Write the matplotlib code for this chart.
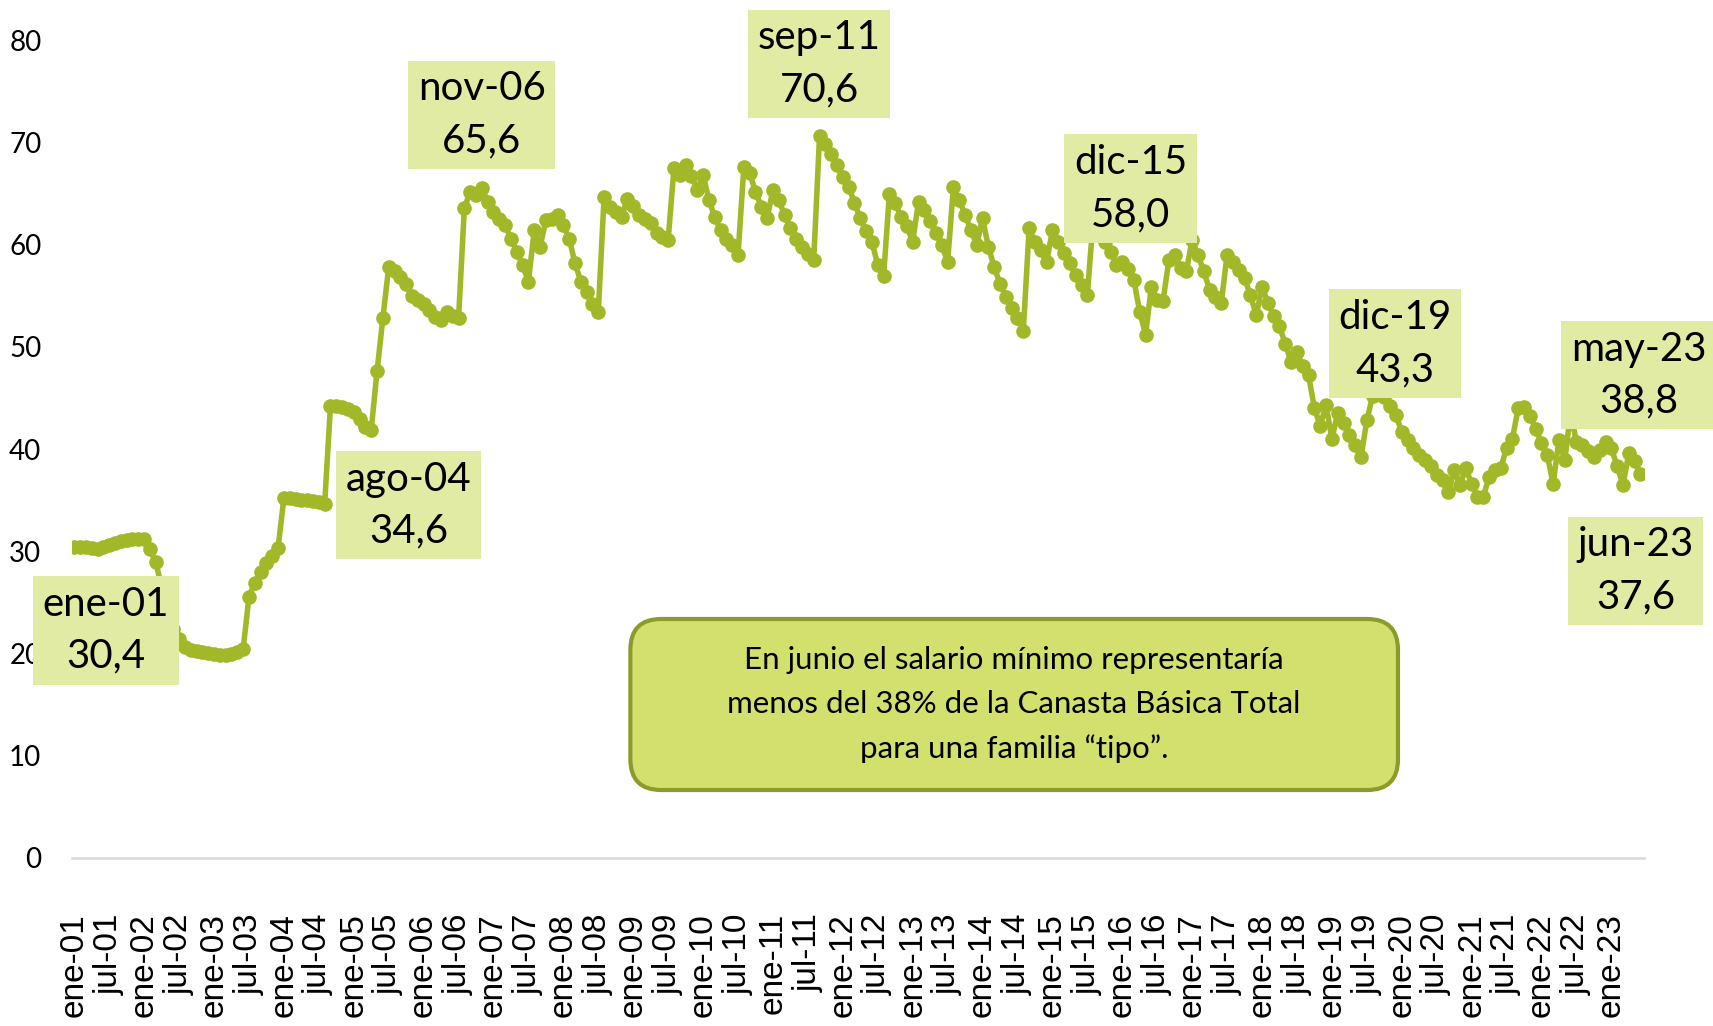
import matplotlib
matplotlib.use("Agg")
import matplotlib.pyplot as plt
from matplotlib.patches import FancyBboxPatch

# salario minimo como % de la Canasta Basica Total, mensual ene-01 .. jun-23
v2001 = [30.4, 30.4, 30.4, 30.3, 30.2, 30.4, 30.6, 30.8, 31.0, 31.1, 31.2, 31.2]
v2002 = [31.2, 30.2, 28.9, 26.5, 24.3, 22.4, 21.4, 20.6, 20.3, 20.2, 20.1, 20.0]
v2003 = [19.9, 19.8, 19.8, 19.9, 20.1, 20.4, 25.5, 26.9, 28.0, 28.8, 29.5, 30.3]
v2004 = [35.2, 35.2, 35.1, 35.0, 35.0, 34.9, 34.8, 34.6, 44.2, 44.2, 44.1, 43.9]
v2005 = [43.6, 42.9, 42.2, 41.9, 47.6, 52.8, 57.8, 57.4, 56.8, 56.2, 55.0, 54.6]
v2006 = [54.2, 53.6, 52.9, 52.6, 53.4, 53.0, 52.8, 63.6, 65.2, 64.9, 65.6, 64.2]
v2007 = [63.2, 62.5, 61.9, 60.6, 59.3, 58.0, 56.4, 61.4, 59.8, 62.4, 62.5, 62.9]
v2008 = [61.9, 60.6, 58.2, 56.4, 55.4, 54.2, 53.4, 64.7, 63.7, 63.2, 62.7, 64.5]
v2009 = [63.8, 62.9, 62.5, 62.1, 61.1, 60.8, 60.5, 67.5, 66.8, 67.8, 66.7, 65.4]
v2010 = [66.8, 64.4, 62.7, 61.4, 60.6, 60.0, 59.0, 67.6, 67.0, 65.2, 63.7, 62.6]
v2011 = [65.4, 64.4, 62.9, 61.6, 60.6, 59.8, 59.1, 58.5, 70.6, 69.9, 68.9, 67.8]
v2012 = [66.6, 65.7, 64.1, 62.6, 61.3, 60.3, 58.0, 56.9, 65.0, 64.1, 62.7, 61.8]
v2013 = [60.3, 64.2, 63.4, 62.3, 61.1, 60.0, 58.3, 65.7, 64.4, 62.9, 61.4, 60.0]
v2014 = [62.6, 59.8, 57.8, 56.2, 54.9, 53.8, 52.8, 51.6, 61.6, 60.3, 59.5, 58.3]
v2015 = [61.4, 60.3, 59.2, 58.2, 57.0, 56.1, 55.1, 62.5, 61.4, 60.3, 59.3, 58.0]
v2016 = [58.3, 57.6, 56.5, 53.4, 51.2, 55.9, 54.6, 54.5, 58.5, 59.0, 57.7, 57.4]
v2017 = [60.5, 59.0, 57.4, 55.6, 54.9, 54.3, 59.0, 58.3, 57.5, 56.7, 55.1, 53.1]
v2018 = [55.9, 54.3, 53.0, 52.0, 50.3, 48.5, 49.5, 48.1, 47.2, 44.0, 42.3, 44.3]
v2019 = [41.0, 43.5, 42.5, 41.4, 40.4, 39.2, 42.8, 45.2, 45.4, 45.1, 44.2, 43.3]
v2020 = [41.7, 40.9, 40.1, 39.4, 38.9, 38.3, 37.5, 37.0, 35.8, 37.9, 36.5, 38.1]
v2021 = [36.6, 35.3, 35.3, 37.3, 37.9, 38.1, 40.1, 41.0, 44.0, 44.1, 43.2, 42.0]
v2022 = [40.6, 39.4, 36.6, 40.9, 38.9, 43.6, 40.7, 40.4, 39.8, 39.2, 39.9, 40.7]
v2023 = [40.1, 38.3, 36.5, 39.6, 38.8, 37.6]

valores = (v2001 + v2002 + v2003 + v2004 + v2005 + v2006 + v2007 + v2008 +
           v2009 + v2010 + v2011 + v2012 + v2013 + v2014 + v2015 + v2016 +
           v2017 + v2018 + v2019 + v2020 + v2021 + v2022 + v2023)

meses = ["ene", "feb", "mar", "abr", "may", "jun",
         "jul", "ago", "sep", "oct", "nov", "dic"]
fechas = [f"{meses[k % 12]}-{1 + k // 12:02d}" for k in range(len(valores))]

etiquetas = ["ene-01", "ago-04", "nov-06", "sep-11", "dic-15", "dic-19", "may-23", "jun-23"]
# centro de cada cuadro de etiqueta (fraccion de figura)
pos_etiquetas = [(0.0619, 0.3856), (0.2385, 0.5075), (0.2813, 0.8882), (0.4783, 0.9377),
                 (0.6601, 0.8163), (0.8144, 0.6651), (0.9567, 0.6342), (0.9548, 0.4437)]

texto_nota = ("En junio el salario mínimo representaría\n"
              "menos del 38% de la Canasta Básica Total\n"
              "para una familia “tipo”.")

verde = "#A3B828"
verde_claro = "#E2EBA3"

fig = plt.figure(figsize=(17.13, 10.26), dpi=100)
ax = fig.add_axes([0.0420, 0.1641, 0.9177, 0.7965])

x = list(range(len(valores)))
ax.plot(x, valores, color=verde, lw=4, marker="o", ms=9.5, mec=verde, mfc=verde, zorder=2)

ax.set_ylim(0, 80)
ax.set_xlim(-0.4, 269.6)
ax.set_yticks(range(0, 81, 10))
ax.set_yticklabels([str(t) for t in range(0, 81, 10)], fontfamily="Lato", fontsize=20)
ax.set_xticks(x[::6])
ax.set_xticklabels(fechas[::6], rotation=90, fontfamily="Liberation Sans", fontsize=24)
ax.tick_params(axis="x", length=0, pad=40)
ax.tick_params(axis="y", length=0, pad=22)

for s in ["top", "right", "left"]:
    ax.spines[s].set_visible(False)
ax.spines["bottom"].set_color("#D9D9D9")
ax.spines["bottom"].set_linewidth(1.8)

for lab, (fx, fy) in zip(etiquetas, pos_etiquetas):
    i = fechas.index(lab)
    txt = f"{lab}\n{valores[i]:.1f}".replace(".", ",")
    ax.annotate(txt, xy=(i, valores[i]), xytext=(fx, fy), textcoords="figure fraction",
                ha="center", va="center", fontfamily="Lato", fontsize=29,
                linespacing=1.5, zorder=6,
                bbox=dict(boxstyle="square,pad=0.24", fc=verde_claro, ec="none"))

nota = FancyBboxPatch((0.3680, 0.2300), 0.4481, 0.1667, transform=fig.transFigure,
                      boxstyle="round,pad=0,rounding_size=0.018",
                      fc="#D4E06E", ec="#8C9C2A", lw=3, zorder=7,
                      mutation_aspect=1713 / 1026)
fig.patches.append(nota)
fig.text(0.5920, 0.3132, texto_nota, ha="center", va="center", fontfamily="Lato",
         fontsize=22.5, linespacing=1.68, zorder=8)

fig.savefig("out.png", dpi=100)
